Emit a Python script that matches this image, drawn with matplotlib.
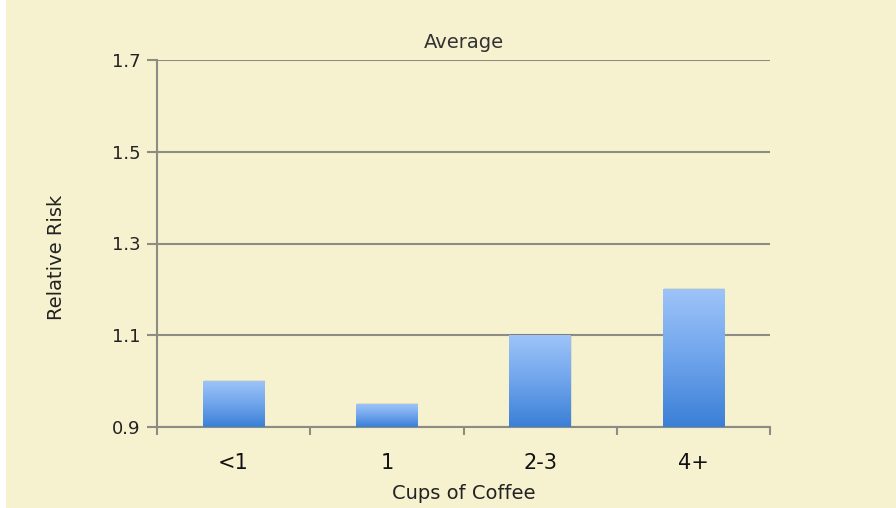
import numpy as np
import matplotlib
matplotlib.use("Agg")
import matplotlib.pyplot as plt
from matplotlib.colors import LinearSegmentedColormap
from matplotlib.patches import Rectangle

categories = ["<1", "1", "2-3", "4+"]
relative_risk = [1.0, 0.95, 1.1, 1.2]
y_ticks = [0.9, 1.1, 1.3, 1.5, 1.7]
y_tick_labels = ["0.9", "1.1", "1.3", "1.5", "1.7"]

BG = "#F6F2CF"
GRID = "#8C8C84"

fig = plt.figure(figsize=(8.96, 5.08), dpi=100, facecolor="white")
fig.patches.append(Rectangle((6 / 896, 0), 1, 1, transform=fig.transFigure,
                             facecolor=BG, edgecolor="none", zorder=-10))
ax = fig.add_axes([157 / 896, 1 - 427 / 508, (770 - 157) / 896, (427 - 60) / 508])
ax.set_facecolor(BG)

x = np.arange(len(categories))
ax.set_xlim(-0.5, len(categories) - 0.5)
ax.set_ylim(0.9, 1.7)

cmap = LinearSegmentedColormap.from_list("bar", ["#3A7FD6", "#6FA4EC", "#9DC4F8"])
grad = np.linspace(0, 1, 256).reshape(-1, 1)
bars = ax.bar(x, [v - 0.9 for v in relative_risk], bottom=0.9, width=0.4,
              color="none", edgecolor="none", zorder=3)
for b in bars:
    x0, y0 = b.get_x(), b.get_y()
    w, h = b.get_width(), b.get_height()
    # soft shadow behind each bar
    ax.add_patch(Rectangle((x0 + 0.006, y0), w, h + 0.003, facecolor="#000000",
                           alpha=0.08, edgecolor="none", zorder=2.5))
    im = ax.imshow(grad, cmap=cmap, aspect="auto", origin="lower",
                   extent=(x0, x0 + w, y0, y0 + h), zorder=3)
    im.set_clip_path(b)

ax.set_yticks(y_ticks)
ax.set_yticklabels(y_tick_labels)
ax.yaxis.grid(True, color=GRID, linewidth=1.5, zorder=1)
ax.set_xticks(x)
ax.set_xticklabels(categories)
ax.set_xticks(np.arange(-0.5, len(categories), 1.0), minor=True)
ax.tick_params(axis="x", which="major", length=0, pad=19, labelsize=15,
               labelcolor="#111111")
ax.tick_params(axis="x", which="minor", length=6, width=1.5, color=GRID)
ax.tick_params(axis="y", length=7, width=1.5, color=GRID, pad=5, labelsize=13,
               labelcolor="#222222")
for lab in ax.get_xticklabels() + ax.get_yticklabels():
    lab.set_fontfamily("DejaVu Sans")

for s in ["top", "right"]:
    ax.spines[s].set_visible(False)
for s in ["left", "bottom"]:
    ax.spines[s].set_color(GRID)
    ax.spines[s].set_linewidth(1.5)

ax.set_title("Average", fontsize=14, family="DejaVu Sans", color="#333333",
             y=(427 - 42) / 367, va="center", pad=0)
ax.set_xlabel("Cups of Coffee", fontsize=14, family="DejaVu Sans", color="#222222")
ax.xaxis.set_label_coords(0.5, (427 - 484) / 367)
ax.set_ylabel("Relative Risk", fontsize=14, family="DejaVu Sans", color="#222222")
ax.yaxis.set_label_coords((66 - 157) / 613, (427 - 257) / 367)

fig.savefig("out.png", dpi=100, facecolor=fig.get_facecolor())
